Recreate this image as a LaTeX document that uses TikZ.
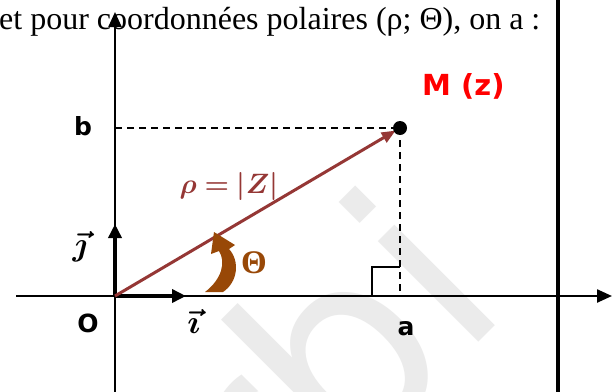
\documentclass[tikz,border=0pt]{standalone}
\usepackage{amsmath}
\usepackage{bm}
\usepackage{fontspec}
\usetikzlibrary{arrows.meta}
\newfontfamily\labfont{DejaVu Sans}
\newfontfamily\tnrfont{Liberation Serif}
\definecolor{rhocol}{HTML}{953735}
\definecolor{thetacol}{HTML}{984807}
\definecolor{wmcol}{HTML}{EBEBEB}
\tikzset{
  axis/.style={line width=2.4pt,-{Triangle[length=15pt,width=13pt]}},
  unitvec/.style={line width=3.6pt,-{Triangle[length=14pt,width=13pt]}},
  proj/.style={line width=2pt,dash pattern=on 7pt off 5pt},
  lab/.style={font=\labfont\bfseries\fontsize{25}{25}\selectfont,inner sep=0pt},
  veclab/.style={font=\fontsize{20}{20}\selectfont,inner sep=0pt,scale=1.6},
}
\begin{document}
\begin{tikzpicture}[x=1pt,y=-1pt]
\useasboundingbox (0,0) rectangle (612,391);
\clip (0,0) rectangle (612,391);
\fill[white] (0,0) rectangle (612,391);
% watermark
\node[text=wmcol,rotate=45,font=\labfont\fontsize{260}{260}\selectfont,inner sep=0pt] (wm) at (322,362) {rbi};
% coordinates
\coordinate (O) at (115,296);
\coordinate (M) at (400,128);
\coordinate (A) at (400,296);
\coordinate (B) at (115,128);
\coordinate (xs) at (16,296);
\coordinate (xe) at (612,296);
\coordinate (ys) at (115,395);
\coordinate (ye) at (115,12);
\coordinate (ie) at (186,296);
\coordinate (je) at (115,224);
\coordinate (vt) at (558,-5);
\coordinate (vb) at (558,396);
% top text
\node[anchor=base west,inner sep=0pt,font=\tnrfont\fontsize{32}{32}\selectfont] (title) at (-1,29) {et pour coordonnées polaires (ρ; Θ), on a :};
% thick vertical line
\draw[line width=4pt] (vt) -- (vb);
% projections
\draw[proj] (B) -- (M);
\draw[proj] (M) -- (A);
% right angle mark
\draw[line width=1.6pt] (372,296) -- (372,267) -- (400,267);
% axes
\draw[axis] (xs) -- (xe);
\draw[axis] (ys) -- (ye);
% unit vectors
\draw[unitvec] (O) -- (ie);
\draw[unitvec] (O) -- (je);
% rho vector
\draw[rhocol,line width=3pt,-{Triangle[length=14pt,width=11pt]},shorten >=5pt] (O) -- (M);
\fill (M) circle (7pt);
% theta curved arrow
\fill[thetacol] (205,292) -- (223,292) .. controls (238,282) and (240,261) .. (229,249)
  -- (235,245) -- (214,232) -- (211,254) -- (219,251)
  .. controls (226,262) and (222,279) .. (205,292) -- cycle;
% labels
\node[lab,anchor=base west,text=red,font=\labfont\bfseries\fontsize{29}{29}\selectfont] (Mlab) at (422,95) {M (z)};
\node[lab,anchor=base] (blab) at (83,135) {b};
\node[lab,anchor=base] (Olab) at (88,332) {O};
\node[lab,anchor=base] (alab) at (406,335) {a};
\node[anchor=base,inner sep=0pt,text=thetacol,font=\tnrfont\bfseries\fontsize{20}{20}\selectfont,scale=1.65] (thlab) at (254,273) {Θ};
\node[anchor=base,inner sep=0pt,text=rhocol,font=\fontsize{20}{20}\selectfont,scale=1.35] (rholab) at (229,193) {$\bm{\rho = |Z|}$};
\node[veclab,anchor=base] (jlab) at (80,255) {$\bm{\vec{\jmath}}$};
\node[veclab,anchor=base] (ilab) at (194,333) {$\bm{\vec{\imath}}$};
\end{tikzpicture}
\end{document}
